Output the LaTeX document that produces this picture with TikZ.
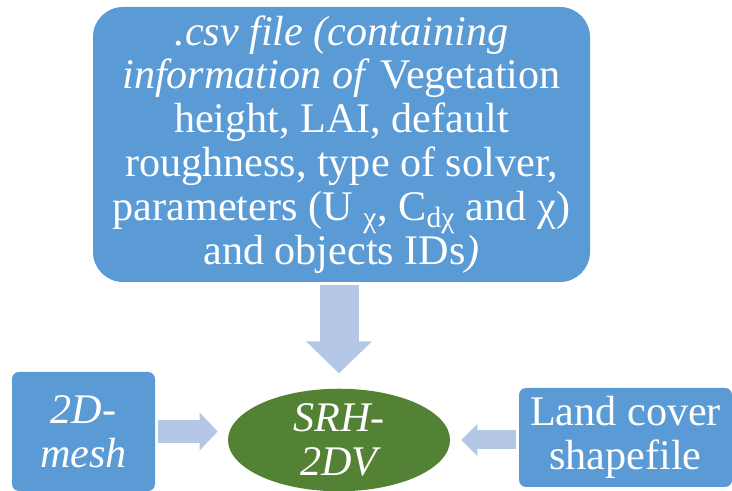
\documentclass[tikz,border=0pt]{standalone}
\usepackage{fontspec}
\newfontfamily\timesfont{Liberation Serif}
\usepackage{xcolor}
\usetikzlibrary{shapes.geometric, arrows.meta}
\definecolor{boxblue}{HTML}{5B9BD5}
\definecolor{arrowblue}{HTML}{B4C7E7}
\definecolor{solvergreen}{HTML}{548235}
\tikzstyle{box} = [fill=boxblue, text=white, align=center, inner sep=0pt]
\tikzstyle{fatarrow} = [draw=arrowblue, line cap=butt]

\begin{document}
\begin{tikzpicture}
    \useasboundingbox (0,0) rectangle (14.64,9.82);

    % Input file
    \node[box, rounded corners=0.6cm, minimum width=9.94cm, minimum height=5.5cm,
          font=\timesfont\fontsize{24}{25}\selectfont] (csv) at (6.83,6.93)
        {\textit{.csv file (containing}\\
         \textit{information of} Vegetation\\
         height, LAI, default\\
         roughness, type of solver,\\
         parameters (U \textsubscript{χ}, C\textsubscript{dχ} and χ)\\
         and objects IDs\textit{)}};

    % Mesh and land cover
    \node[box, rounded corners=0.14cm, minimum width=2.86cm, minimum height=2.38cm,
          font=\timesfont\fontsize{24}{25}\selectfont\itshape] (mesh) at (1.67,1.19)
        {2D-\\mesh};
    \node[box, rounded corners=0.14cm, minimum width=4.26cm, minimum height=1.98cm,
          font=\timesfont\fontsize{24}{25}\selectfont] (land) at (12.51,1.07)
        {Land cover\\shapefile};

    % Model
    \node[ellipse, fill=solvergreen, text=white, align=center, inner sep=0pt,
          minimum width=4.44cm, minimum height=2.0cm,
          font=\timesfont\fontsize{24}{25}\selectfont\itshape] (srh) at (6.78,1.02)
        {SRH-\\2DV};

    % Arrows
    \draw[fatarrow, line width=0.78cm, shorten <=0.06cm, shorten >=0.3cm,
          -{Triangle[length=0.64cm, width=1.28cm]}]
        (csv.south -| srh.north) -- (srh.north);
    \draw[fatarrow, line width=0.46cm, shorten <=0.06cm, shorten >=0.2cm,
          -{Triangle[length=0.36cm, width=0.74cm]}]
        (mesh.east) -- (mesh.east -| srh.west);
    \draw[fatarrow, line width=0.38cm, shorten <=0.06cm, shorten >=0.22cm,
          -{Triangle[length=0.32cm, width=0.62cm]}]
        (land.west |- srh.east) -- (srh.east);
\end{tikzpicture}
\end{document}
